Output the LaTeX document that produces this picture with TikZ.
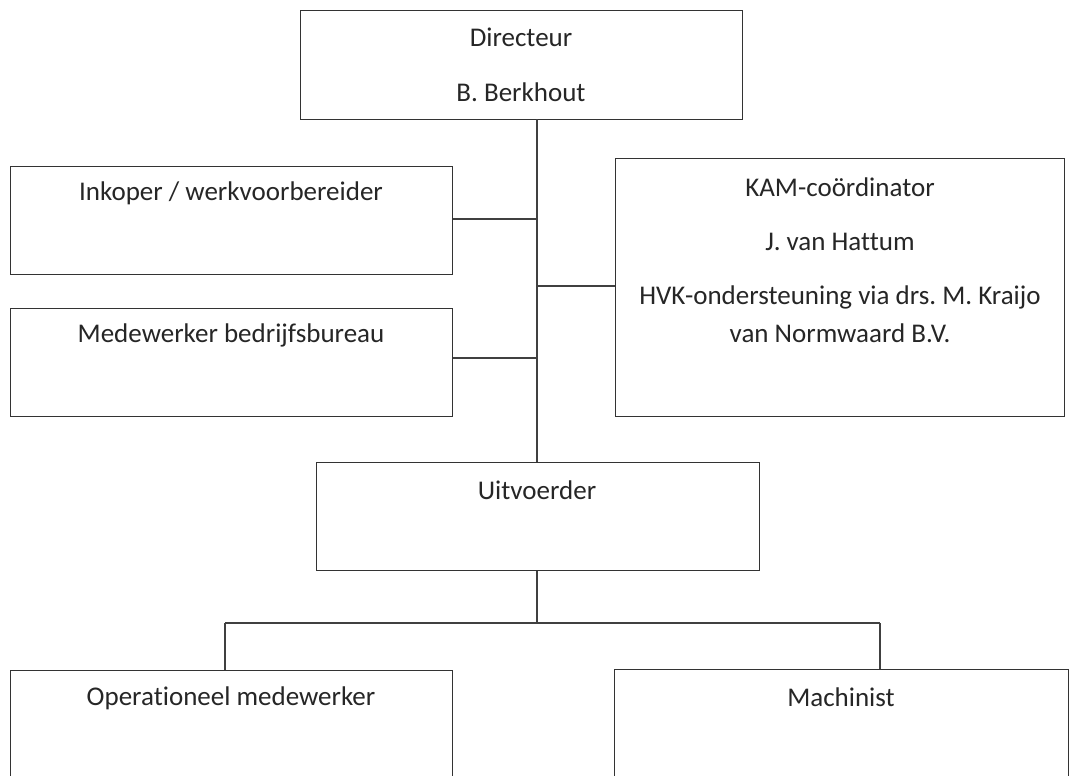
\documentclass[tikz,border=0pt]{standalone}
\usepackage{fontspec}
\setmainfont[Ligatures=NoCommon]{Carlito}
\begin{document}
\frenchspacing
\begin{tikzpicture}[x=1pt,y=-1pt,
  box/.style={draw=black!80,line width=1.3pt,fill=white,inner sep=0pt,anchor=north west},
  lbl/.style={inner sep=0pt,anchor=center,text=black!85,font=\fontsize{27}{32}\selectfont},
  conn/.style={draw=black!75,line width=1.3pt}]
\useasboundingbox (0,0) rectangle (1074,776);
\clip (0,0) rectangle (1074,776);
\fill[white] (0,0) rectangle (1074,776);
% boxes
\node[box,minimum width=442pt,minimum height=109pt] (dir) at (300,10) {};
\node[box,minimum width=442pt,minimum height=108pt] (ink) at (10,166) {};
\node[box,minimum width=442pt,minimum height=108pt] (med) at (10,308) {};
\node[box,minimum width=449pt,minimum height=258pt] (kam) at (615,158) {};
\node[box,minimum width=443pt,minimum height=108pt] (uit) at (316,462) {};
\node[box,minimum width=442pt,minimum height=140pt] (ope) at (10,670) {};
\node[box,minimum width=454pt,minimum height=140pt] (mac) at (614,669) {};
% texts
\node[lbl] (t1) at (521,37) {Directeur};
\node[lbl] (t2) at (521,92) {B. Berkhout};
\node[lbl] (t3) at (231,193) {Inkoper / werkvoorbereider};
\node[lbl] (t4) at (231,335) {Medewerker bedrijfsbureau};
\node[lbl] (t5) at (840,187) {KAM-coördinator};
\node[lbl] (t6) at (840,242) {J. van Hattum};
\node[lbl] (t7) at (840,297) {HVK-ondersteuning via drs. M. Kraijo};
\node[lbl] (t8) at (840,333) {van Normwaard B.V.};
\node[lbl] (t9) at (537,490) {Uitvoerder};
\node[lbl] (t10) at (231,698) {Operationeel medewerker};
\node[lbl] (t11) at (841,697) {Machinist};
% connectors
\coordinate (jtop) at (537,119);
\coordinate (jink) at (537,219);
\coordinate (jkam) at (537,286);
\coordinate (jmed) at (537,358);
\coordinate (jbot) at (537,623);
\coordinate (jl) at (225,623);
\coordinate (jr) at (880,623);
\path[conn] (jtop) -- (jtop |- uit.north);
\path[conn] (ink.east |- jink) -- (jink);
\path[conn] (kam.west |- jkam) -- (jkam);
\path[conn] (med.east |- jmed) -- (jmed);
\path[conn] (uit.south -| jbot) -- (jbot);
\path[conn] (jl) -- (jr);
\path[conn] (jl) -- (jl |- ope.north);
\path[conn] (jr) -- (jr |- mac.north);
\end{tikzpicture}
\end{document}
